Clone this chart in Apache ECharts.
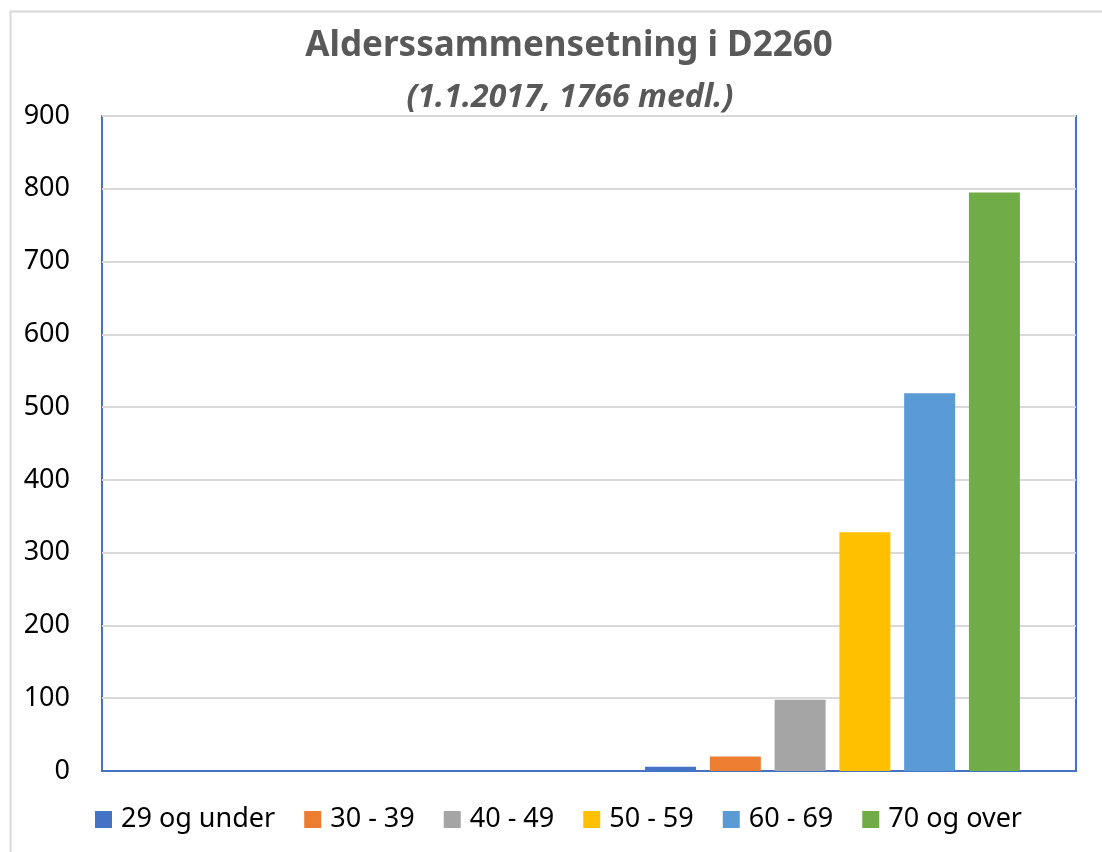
<!DOCTYPE html>
<html lang="no">
<head>
    <meta charset="UTF-8">
    <title>Alderssammensetning i D2260</title>
    <style>
        html, body { margin: 0; padding: 0; background: #fff; }
        #box { width: 1102px; height: 852px; }
    </style>
</head>
<body>
<div id="box"></div>
<script src="https://cdn.jsdelivr.net/npm/echarts@6/dist/echarts.min.js"></script>
<script>
    // aldersgrupper og antall medlemmer
    var groups = ['29 og under', '30 - 39', '40 - 49', '50 - 59', '60 - 69', '70 og over'];
    var members = [6, 20, 98, 328, 519, 795];
    var colors = ['#4472C4', '#ED7D31', '#A5A5A5', '#FFC000', '#5B9BD5', '#70AD47'];
    // to kategorier i Excel, den forste er tom
    var categories = ['', ''];
    var yTicks = { min: 0, max: 900, interval: 100 };

    var mychart = echarts.init(document.getElementById('box'));

    var series = groups.map(function (name, i) {
        return {
            name: name,
            type: 'bar',
            barWidth: 51,
            barGap: '27%',
            itemStyle: { color: colors[i] },
            data: ['-', members[i]]
        };
    });

    var font = 'Noto Sans';
    var option = {
        animation: false,
        graphic: [{
            type: 'rect',
            shape: { x: 10.5, y: 11.5, width: 1200, height: 1000 },
            style: { fill: 'none', stroke: '#d9d9d9', lineWidth: 2 },
            silent: true,
            z: -10
        }],
        title: [{
            left: 564,
            textAlign: 'center',
            top: 24,
            text: 'Alderssammensetning i D2260',
            textStyle: {
                fontFamily: font,
                fontSize: 35,
                fontWeight: 'bold',
                color: '#595959'
            }
        }, {
            left: 565,
            textAlign: 'center',
            top: 77,
            text: '(1.1.2017, 1766 medl.)',
            textStyle: {
                fontFamily: font,
                fontSize: 32,
                fontWeight: 'bold',
                fontStyle: 'italic',
                color: '#595959'
            }
        }],
        legend: {
            bottom: 14,
            left: 90,
            icon: 'rect',
            itemWidth: 17,
            itemHeight: 17,
            itemGap: 29,
            data: groups,
            textStyle: { fontFamily: font, fontSize: 27, color: '#000', padding: [0, 0, 0, 4] }
        },
        grid: {
            left: 102,
            right: 26,
            top: 116,
            bottom: 81,
            show: true,
            borderColor: '#4472C4',
            borderWidth: 2,
            containLabel: false
        },
        xAxis: {
            type: 'category',
            data: categories,
            axisLine: { show: true, lineStyle: { color: '#4472C4', width: 2 } },
            axisTick: { show: false },
            axisLabel: { show: false },
            splitLine: { show: false }
        },
        yAxis: {
            type: 'value',
            min: yTicks.min,
            max: yTicks.max,
            interval: yTicks.interval,
            axisLine: { show: false },
            axisTick: { show: false },
            splitLine: { lineStyle: { color: '#d9d9d9', width: 2 } },
            axisLabel: {
                fontFamily: font,
                fontSize: 27,
                color: '#000',
                margin: 32
            }
        },
        series: series
    };
    mychart.setOption(option);
</script>
</body>
</html>
